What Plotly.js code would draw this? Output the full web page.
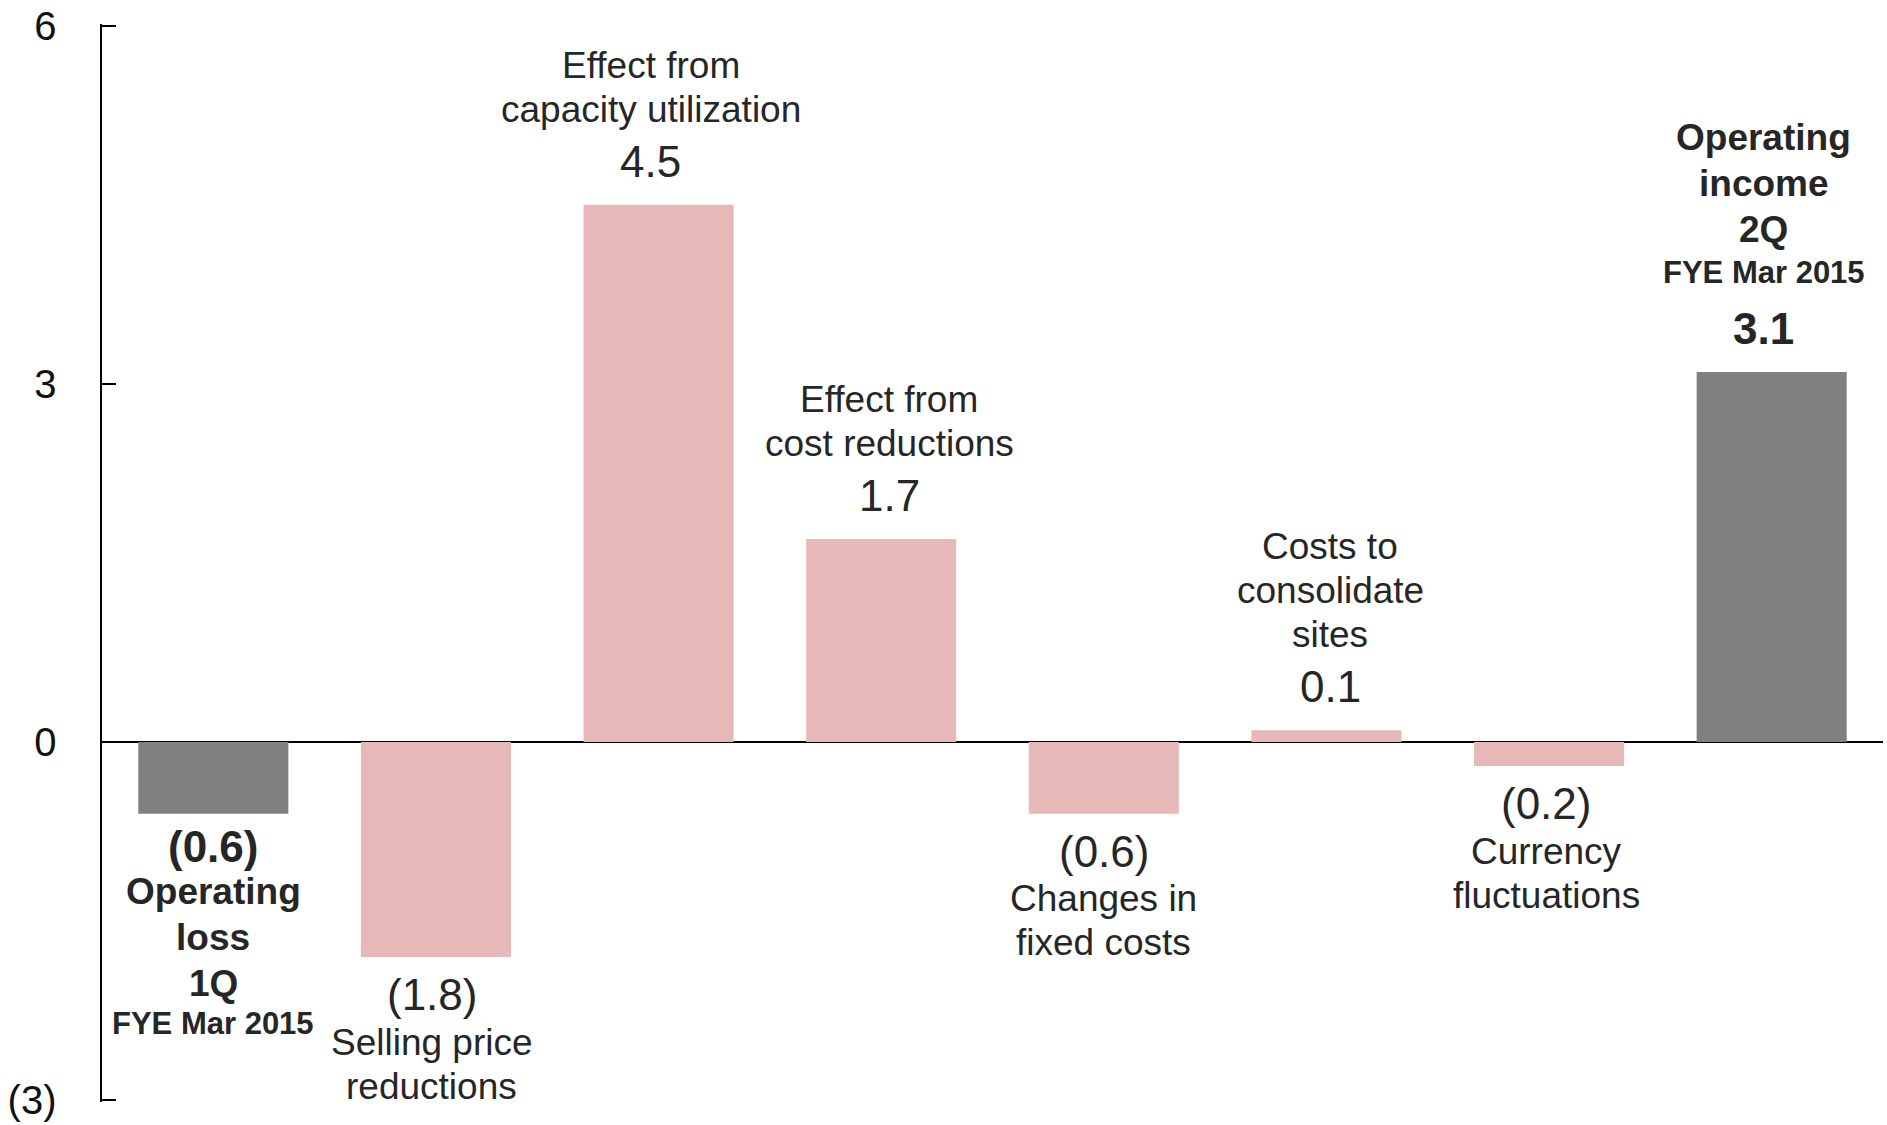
<!DOCTYPE html>
<html>
<head>
<meta charset="utf-8">
<script src="https://cdn.plot.ly/plotly-3.0.1.min.js"></script>
<style>
html, body { margin: 0; padding: 0; background: #ffffff; }
#chart { width: 1887px; height: 1125px; }
</style>
</head>
<body>
<div id="chart"></div>
<script>
// ---------------- data ----------------
const categories = [
  "Operating loss 1Q",
  "Selling price reductions",
  "Effect from capacity utilization",
  "Effect from cost reductions",
  "Changes in fixed costs",
  "Costs to consolidate sites",
  "Currency fluctuations",
  "Operating income 2Q"
];
const labelLines = [
  ["Operating", "loss", "1Q"],
  ["Selling price", "reductions"],
  ["Effect from", "capacity utilization"],
  ["Effect from", "cost reductions"],
  ["Changes in", "fixed costs"],
  ["Costs to", "consolidate", "sites"],
  ["Currency", "fluctuations"],
  ["Operating", "income", "2Q"]
];
const periodLabels = ["FYE Mar 2015", "", "", "", "", "", "", "FYE Mar 2015"];
const values = [-0.6, -1.8, 4.5, 1.7, -0.6, 0.1, -0.2, 3.1];
const barKinds = ["total", "change", "change", "change", "change", "change", "change", "total"];
const yTickVals = [-3, 0, 3, 6];
const yTickText = ["(3)", "0", "3", "6"];

// ---------------- style ----------------
const FONT = "Liberation Sans, Arial, sans-serif";
const TEXT_COLOR = "#262626";
const kindColor = { total: "#808080", change: "#E6B8B7" };
const VALUE_SIZE = 44, LINE_SIZE = 37, PERIOD_SIZE = 31;
// small horizontal nudges of the text blocks (pixels), as placed in the original slide
const labelNudgeX = [0, -4, -8, 8, 0, 4, -3, -8];

function fmt(v) {
  const s = Math.abs(v).toFixed(1);
  return v < 0 ? "(" + s + ")" : s;
}

// vertical centre of a single text line sits ~0.3465 em above its baseline
function lineAnn(x, y, text, size, bold, baselineDist, up, dx) {
  const centreDist = up ? baselineDist + 0.3465 * size : baselineDist - 0.3465 * size;
  return {
    x: x, y: y, xref: "x", yref: "y",
    text: text, showarrow: false,
    xanchor: "center", yanchor: "middle",
    xshift: dx,
    yshift: up ? centreDist : -centreDist,
    font: { family: FONT, size: size, color: TEXT_COLOR, weight: bold ? 700 : 400 }
  };
}

const annotations = [];
categories.forEach((cat, i) => {
  const v = values[i];
  const up = v >= 0;
  const isTotal = barKinds[i] === "total";
  const dx = labelNudgeX[i];
  const block = labelLines[i].map(t => ({ text: t, size: LINE_SIZE, step: isTotal ? 46 : 44 }));
  if (periodLabels[i]) block.push({ text: periodLabels[i], size: PERIOD_SIZE, step: up ? 41 : 38 });

  const valueBase = up ? 28 : (isTotal ? 48 : 53);
  annotations.push(lineAnn(cat, v, fmt(v), VALUE_SIZE, isTotal, valueBase, up, dx));

  if (up) {
    let d = valueBase + (isTotal ? 61 : 55);
    for (let k = block.length - 1; k >= 0; k--) {
      annotations.push(lineAnn(cat, v, block[k].text, block[k].size, isTotal, d, true, dx));
      if (k > 0) d += (k === block.length - 1 && periodLabels[i]) ? block[k].step : block[k - 1].step;
    }
  } else {
    let d = valueBase + (isTotal ? 43 : 45);
    for (let k = 0; k < block.length; k++) {
      annotations.push(lineAnn(cat, v, block[k].text, block[k].size, isTotal, d, false, dx));
      if (k + 1 < block.length) d += block[k + 1].step;
    }
  }
});

const trace = {
  type: "bar",
  x: categories,
  y: values,
  marker: { color: barKinds.map(k => kindColor[k]), line: { width: 0 } },
  hoverinfo: "skip",
  cliponaxis: false
};

const layout = {
  width: 1887, height: 1125,
  margin: { l: 102, r: 4, t: 24, b: 23, pad: 0 },
  paper_bgcolor: "#ffffff", plot_bgcolor: "#ffffff",
  showlegend: false,
  bargap: 0.326,
  xaxis: {
    type: "category",
    range: [-0.5, 7.5],
    showticklabels: false, ticks: "", showline: false, showgrid: false, zeroline: false
  },
  yaxis: {
    range: [-3.015, 6.015],
    tickmode: "array", tickvals: yTickVals, ticktext: yTickText,
    ticks: "inside", ticklen: 14, tickwidth: 2.5, tickcolor: "#000",
    showline: true, linecolor: "#000", linewidth: 2.5,
    showgrid: false,
    zeroline: true, zerolinecolor: "#000", zerolinewidth: 2.5,
    ticklabelstandoff: 35,
    tickfont: { family: FONT, size: 40, color: "#111" }
  },
  annotations: annotations
};

Plotly.newPlot("chart", [trace], layout, { displayModeBar: false, staticPlot: true });
</script>
</body>
</html>
